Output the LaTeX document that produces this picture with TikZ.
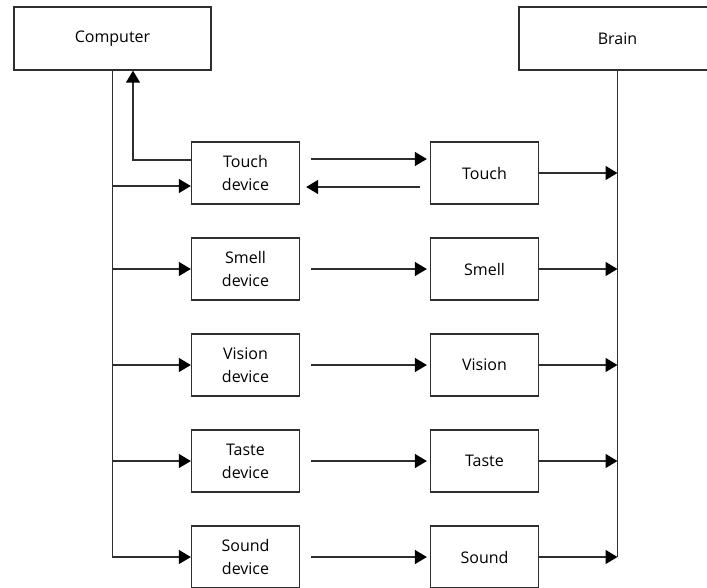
\documentclass[tikz,border=0pt]{standalone}
\usepackage{fontspec}
\setmainfont{Open Sans}
\usetikzlibrary{arrows.meta}
\definecolor{linegray}{HTML}{2E2E2E}
\tikzset{
  box/.style={draw=linegray, line width=1.3pt, minimum width=108pt, minimum height=62pt,
    align=center, inner sep=0pt, font=\fontsize{16}{23}\selectfont},
  bigbox/.style={box, minimum width=197pt, minimum height=63pt},
  link/.style={draw=linegray, line width=1.4pt},
  arr/.style={link, -{Triangle[length=12pt,width=14pt,fill=black,color=black]}},
}
\begin{document}
\begin{tikzpicture}[x=1pt,y=-1pt]
\useasboundingbox (0,0) rectangle (707,587);
% top blocks
\node[bigbox] (comp) at (112.5,38.5) {Computer};
\node[bigbox] (brain) at (617.5,38.5) {Brain};
% device column and sense column
\foreach \n/\dev/\sen/\y in {1/Touch/Touch/173, 2/Smell/Smell/269, 3/Vision/Vision/365, 4/Taste/Taste/461, 5/Sound/Sound/557}{
  \node[box] (dev\n) at (245.5,\y) {\dev\\device};
  \node[box] (sen\n) at (484.5,\y) {\sen};
}
% trunk from the computer and branches to the devices
\draw[arr] (comp.south) |- (dev5.west);
\foreach \n in {2,3,4}{
  \draw[arr] (comp.south |- dev\n.west) -- (dev\n.west);
}
\draw[arr] ([yshift=-13pt]comp.south |- dev1.west) -- ([yshift=-13pt]dev1.west);
% feedback from the touch device to the computer
\coordinate (fb) at (133,0);
\draw[arr] ([yshift=13pt]dev1.west) -| (fb |- comp.south);
% device <-> sense links
\draw[arr] ([xshift=11pt,yshift=14pt]dev1.east) -- ([xshift=-3pt,yshift=14pt]sen1.west);
\draw[arr] ([xshift=-10pt,yshift=-14pt]sen1.west) -- ([xshift=6pt,yshift=-14pt]dev1.east);
\foreach \n in {2,3,4,5}{
  \draw[arr] ([xshift=11pt]dev\n.east) -- ([xshift=-3pt]sen\n.west);
}
% trunk into the brain and branches from the senses
\draw[link] (brain.south) -- (brain.south |- sen5.east);
\foreach \n in {1,2,3,4,5}{
  \draw[arr] (sen\n.east) -- (brain.south |- sen\n.east);
}
\end{tikzpicture}
\end{document}
